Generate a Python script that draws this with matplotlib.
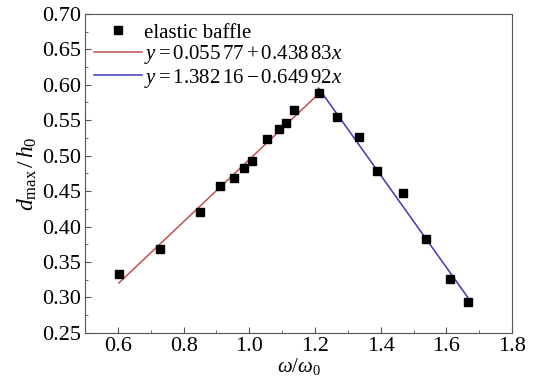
import matplotlib
matplotlib.use("Agg")
import matplotlib.pyplot as plt
import numpy as np
from matplotlib.ticker import MultipleLocator

plt.rcParams['font.family'] = ['Liberation Serif', 'DejaVu Serif']
plt.rcParams['mathtext.fontset'] = 'custom'
plt.rcParams['mathtext.rm'] = 'Liberation Serif'
plt.rcParams['mathtext.it'] = 'Liberation Serif:italic'

# measured points (omega/omega0, d_max/h0)
w_ratio = [0.603, 0.728, 0.849, 0.910, 0.953, 0.983, 1.007, 1.053, 1.089,
           1.111, 1.135, 1.211, 1.266, 1.333, 1.390, 1.469, 1.539, 1.612, 1.667]
d_ratio = [0.333, 0.369, 0.421, 0.457, 0.468, 0.483, 0.492, 0.523, 0.537,
           0.546, 0.565, 0.589, 0.554, 0.527, 0.479, 0.447, 0.382, 0.326, 0.294]

# fitted lines
fit1 = (0.05577, 0.43883)
fit1_range = [0.603, 1.211]
fit2 = (1.38216, -0.64992)
fit2_range = [1.211, 1.667]

fig = plt.figure(figsize=(5.38, 3.84), dpi=100)
ax = fig.add_axes([0.158, 0.133, 0.794, 0.831])

x1 = np.array(fit1_range)
x2 = np.array(fit2_range)
ax.plot(w_ratio, d_ratio, 's', color='black', markersize=5.2, label='elastic baffle', zorder=3)
ax.plot(x1, fit1[0] + fit1[1] * x1, color='#c0504d', lw=1.1,
        label=r'$y = 0.055\,77 + 0.438\,83x$')
ax.plot(x2, fit2[0] + fit2[1] * x2, color='#3a3ab8', lw=1.1,
        label=r'$y = 1.382\,16 - 0.649\,92x$')

ax.set_xlim(0.5, 1.8)
ax.set_ylim(0.25, 0.70)
ax.xaxis.set_major_locator(MultipleLocator(0.2))
ax.xaxis.set_minor_locator(MultipleLocator(0.1))
ax.yaxis.set_major_locator(MultipleLocator(0.05))
ax.yaxis.set_minor_locator(MultipleLocator(0.025))
ax.xaxis.set_major_formatter(plt.FormatStrFormatter('%.1f'))
ax.yaxis.set_major_formatter(plt.FormatStrFormatter('%.2f'))
ax.tick_params(which='both', direction='in', labelsize=16, color='#555555', pad=3)
ax.tick_params(which='major', length=4)
ax.tick_params(which='minor', length=2.5)
for s in ax.spines.values():
    s.set_color('#555555')

ax.set_xlabel(r'$\omega/\omega_0$', fontsize=15, labelpad=0)
ax.set_ylabel(r'$d_{\mathrm{max}}\,/\,h_0$', fontsize=17, labelpad=2)

ax.legend(loc='upper left', frameon=False, fontsize=15, handlelength=2.3,
          handletextpad=0.1, borderaxespad=0.15, labelspacing=0.02,
          borderpad=0.3)

fig.savefig('out.png', dpi=100)
